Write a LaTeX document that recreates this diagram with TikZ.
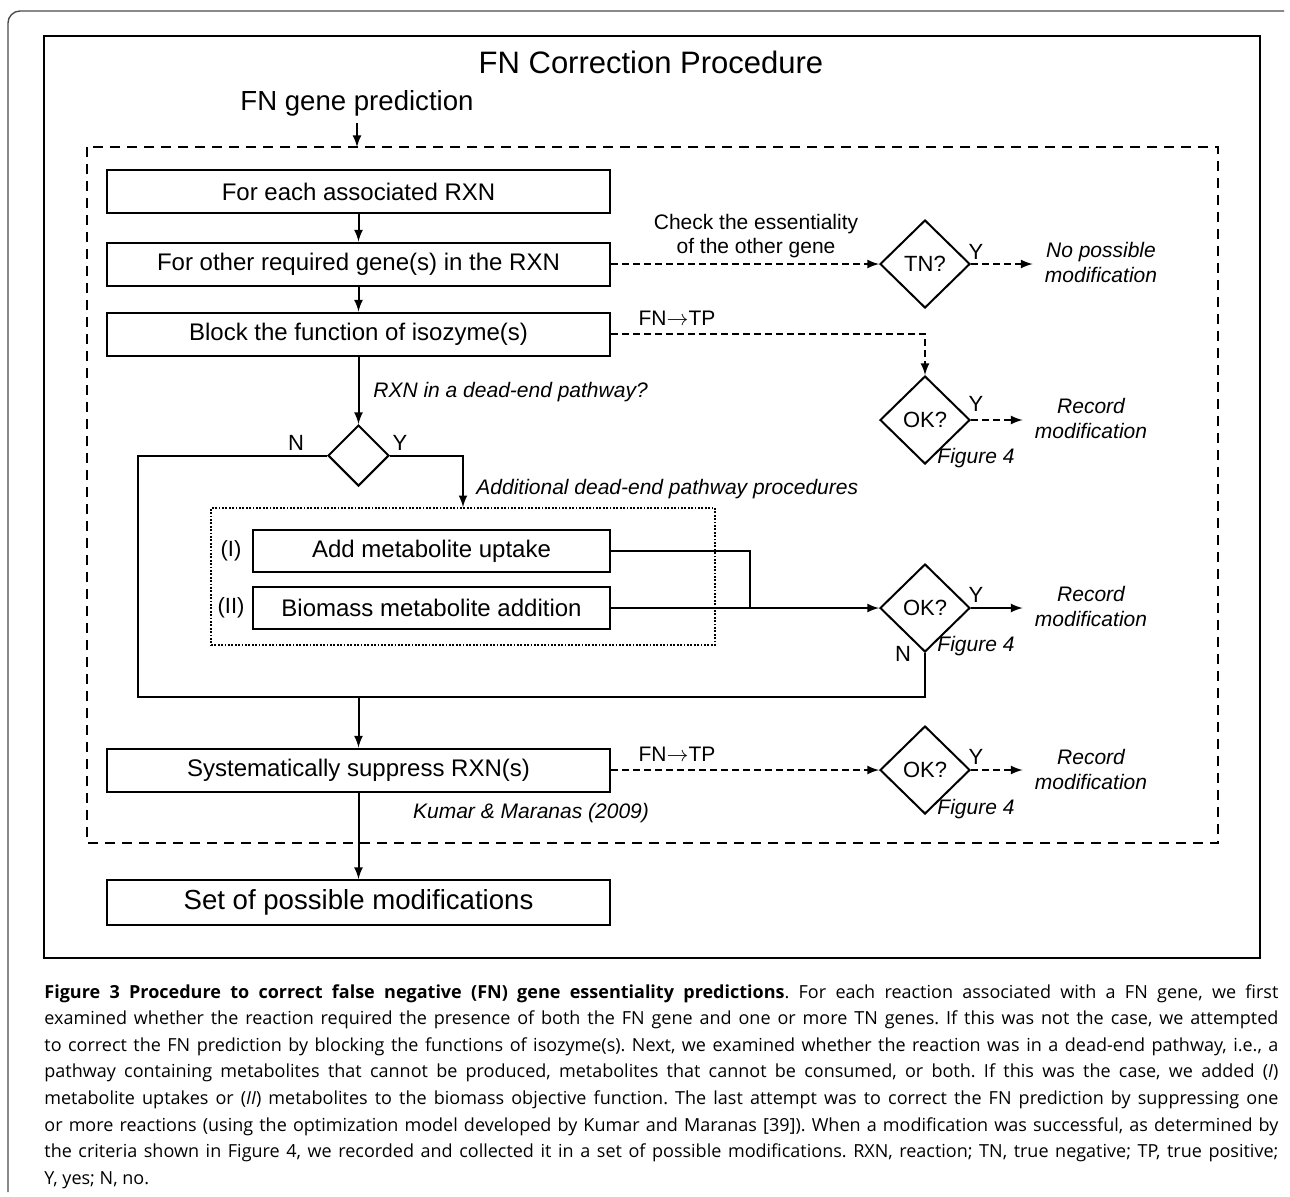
\documentclass[tikz,border=0pt]{standalone}
\usepackage{fontspec}
\setmainfont{Liberation Sans}
\newfontfamily\capfont{Open Sans}
\usetikzlibrary{shapes.geometric}

\tikzset{
  stepbox/.style={draw, line width=1pt, minimum width=251.5pt, minimum height=21.5pt, inner sep=0pt, font=\fontsize{12}{14}\selectfont},
  subbox/.style={stepbox, minimum width=178.5pt, minimum height=21pt},
  decision/.style={draw, diamond, line width=1pt, inner sep=0pt, minimum width=45pt, minimum height=44pt, font=\fontsize{11}{13}\selectfont},
  lbl/.style={inner sep=0pt, font=\fontsize{10.5}{12}\selectfont},
  itlbl/.style={inner sep=0pt, font=\fontsize{10.5}{12.5}\selectfont\itshape},
  yn/.style={inner sep=0pt, font=\fontsize{11}{13}\selectfont},
  result/.style={itlbl, align=center, inner sep=6pt},
  flow/.style={line width=1pt, -latex},
  dflow/.style={flow, dash pattern=on 3.5pt off 2pt},
}

\begin{document}
\begin{tikzpicture}[x=0.5pt,y=0.5pt,yscale=-1]
\useasboundingbox (0,0) rectangle (1290,1196);

%Page frame
\draw [color=black!70, line width=0.7pt, rounded corners=6pt] (1284,11) -- (8,11) -- (8,1192);
%Figure frame
\draw [line width=1.2pt] (44,36) rectangle (1260,958);
%Dashed frame of the procedure
\draw [line width=1.2pt, dash pattern=on 5pt off 3.5pt] (87,147) rectangle (1218,843);

% Text Node
\node [font=\fontsize{15.5}{18}\selectfont] (title) at (651,62) {FN Correction Procedure};
% Text Node
\node [font=\fontsize{13.8}{16}\selectfont] (fngene) at (357,103) {FN gene prediction};
\coordinate (inlet) at (357,147);

%Steps
\node [stepbox] (each) at (358.5,191.5) {For each associated RXN};
\node [stepbox] (other) at (358.5,264) {For other required gene(s) in the RXN};
\node [stepbox] (block) at (358.5,334) {Block the function of isozyme(s)};
\node [decision, minimum width=30.5pt, minimum height=30.5pt] (deadend) at (358.5,455.5) {};
\node [draw, line width=0.9pt, dash pattern=on 0.9pt off 0.8pt, minimum width=252pt, minimum height=68.5pt] (extra) at (463,576.5) {};
\node [subbox] (uptake) at (431.5,551) {Add metabolite uptake};
\node [subbox] (biomass) at (431.5,608) {Biomass metabolite addition};
\node [stepbox] (suppress) at (358.5,770) {Systematically suppress RXN(s)};
\node [stepbox, minimum height=22.5pt, font=\fontsize{13.8}{16}\selectfont] (set) at (358.5,902.5) {Set of possible modifications};

%Checks
\node [decision] (tn) at (925,264) {TN?};
\node [decision] (okblock) at (925,420) {OK?};
\node [decision] (okextra) at (925,608) {OK?};
\node [decision] (oksupp) at (925,770) {OK?};

%Outcomes
\node [result] (nomod) at (1101,262) {No possible\\modification};
\node [result] (recblock) at (1091,418) {Record\\modification};
\node [result] (recextra) at (1091,606) {Record\\modification};
\node [result] (recsupp) at (1091,769) {Record\\modification};

% Text Node
\node [lbl, align=center] (checklbl) at (756,236) {Check the essentiality\\of the other gene};
\node [lbl] (tpblock) at (677,318) {FN$\to$TP};
\node [lbl] (tpsupp) at (677,754) {FN$\to$TP};
\node [itlbl, anchor=west] (deadq) at (373,392) {RXN in a dead-end pathway?};
\node [itlbl, anchor=west] (extralbl) at (476,489) {Additional dead-end pathway procedures};
\node [itlbl] (kumar) at (531,813) {Kumar \& Maranas (2009)};
\node [itlbl] (figblock) at (976,458) {Figure 4};
\node [itlbl] (figextra) at (976,646) {Figure 4};
\node [itlbl] (figsupp) at (976,809) {Figure 4};
\node [yn] (one) at (231,551) {(I)};
\node [yn] (two) at (231,608) {(II)};

% Y / N
\node [yn] (deadn) at (296,443) {N};
\node [yn] (deady) at (400,443) {Y};
\node [yn] (tny) at (976,252) {Y};
\node [yn] (blocky) at (976,404) {Y};
\node [yn] (extray) at (976,595) {Y};
\node [yn] (extran) at (903,654) {N};
\node [yn] (suppy) at (976,757) {Y};

\coordinate (join) at (750,608);
\coordinate (loopL) at (138,697);

%Connectors
\draw [flow] (fngene.south) -- (inlet);
\draw [flow] (each) -- (other);
\draw [flow] (other) -- (block);
\draw [flow] (block) -- (deadend);
\draw [dflow] (other.east) -- (tn.west);
\draw [dflow] (tn.east) -- (tn.east -| nomod.west);
\draw [dflow] (block.east) -| (okblock.north);
\draw [dflow] (okblock.east) -- (okblock.east -| recblock.west);
\draw [flow] (deadend.east) -| (extra.north);
\draw [line width=1pt] (uptake.east) -| (join);
\draw [flow] (biomass.east) -- (okextra.west);
\draw [flow] (okextra.east) -- (okextra.east -| recextra.west);
\draw [line width=1pt] (okextra.south) |- (loopL) |- (deadend.west);
\draw [flow] (suppress.north |- loopL) -- (suppress.north);
\draw [dflow] (suppress.east) -- (oksupp.west);
\draw [dflow] (oksupp.east) -- (oksupp.east -| recsupp.west);
\draw [flow] (suppress) -- (set);

%Caption
\node [anchor=north west, inner sep=0pt, text width=617pt, align=justify, font=\capfont\fontsize{9}{13.3}\selectfont\frenchspacing] (caption) at (44,984) {\textbf{Figure 3 Procedure to correct false negative (FN) gene essentiality predictions}. For each reaction associated with a FN gene, we first\linebreak
examined whether the reaction required the presence of both the FN gene and one or more TN genes. If this was not the case, we attempted\linebreak
to correct the FN prediction by blocking the functions of isozyme(s). Next, we examined whether the reaction was in a dead-end pathway, i.e., a\linebreak
pathway containing metabolites that cannot be produced, metabolites that cannot be consumed, or both. If this was the case, we added (\textit{I})\linebreak
metabolite uptakes or (\textit{II}) metabolites to the biomass objective function. The last attempt was to correct the FN prediction by suppressing one\linebreak
or more reactions (using the optimization model developed by Kumar and Maranas [39]). When a modification was successful, as determined by\linebreak
the criteria shown in Figure 4, we recorded and collected it in a set of possible modifications. RXN, reaction; TN, true negative; TP, true positive;\linebreak
Y, yes; N, no.};
\end{tikzpicture}
\end{document}
